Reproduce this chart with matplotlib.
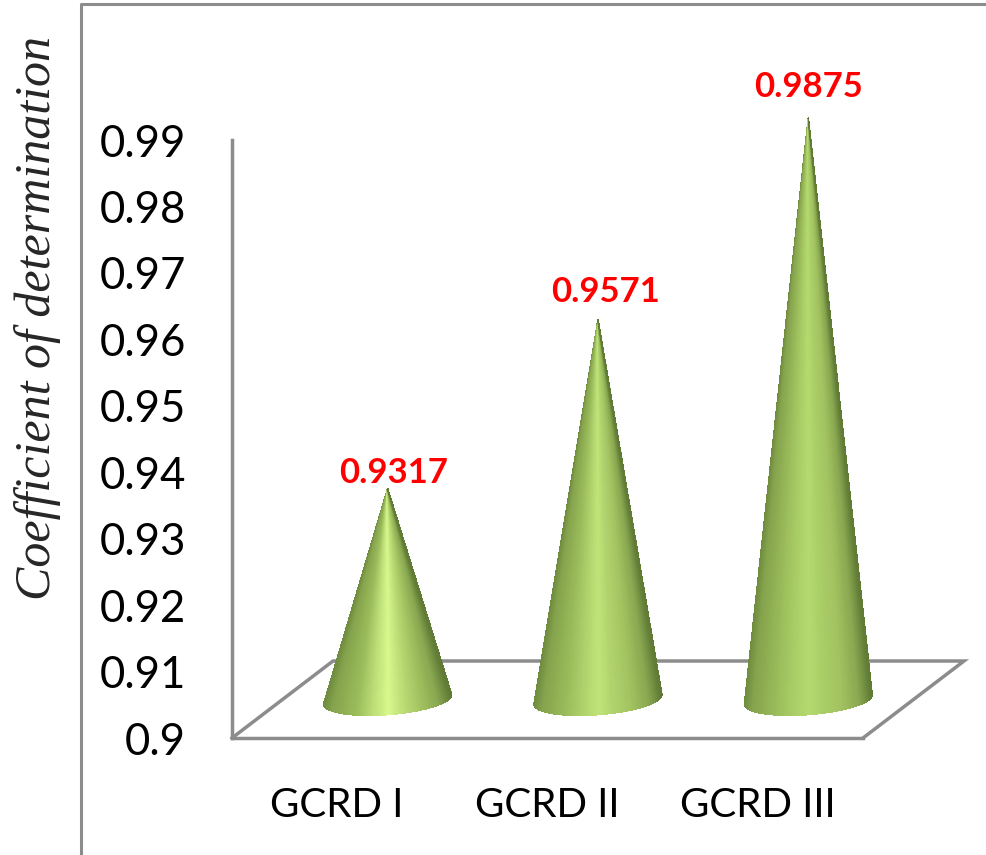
import numpy as np
import matplotlib
matplotlib.use("Agg")
from matplotlib import pyplot as plt
from matplotlib.collections import PolyCollection
from matplotlib.colors import LinearSegmentedColormap
from matplotlib.lines import Line2D

categories = ["GCRD I", "GCRD II", "GCRD III"]
values = [0.9317, 0.9571, 0.9875]
yticks = [0.9, 0.91, 0.92, 0.93, 0.94, 0.95, 0.96, 0.97, 0.98, 0.99]
ytick_labels = ["0.9", "0.91", "0.92", "0.93", "0.94", "0.95", "0.96", "0.97", "0.98", "0.99"]

W, H = 987, 855
GREY = "#8c8c8c"

fig = plt.figure(figsize=(W / 100, H / 100), dpi=100)
fig.patch.set_facecolor("white")

# plot box in pixels: left wall x=232, front floor edge y=738
ax = fig.add_axes([232 / W, (H - 738) / H, 631 / W, 598 / H])
ax.set_xlim(-0.5, 2.5)
ax.set_ylim(0.9, 0.99)
ax.patch.set_alpha(0)

px_x = 3 / 631          # data units per pixel
px_y = 0.09 / 598

# oblique depth of the floor, in pixels
depth_x, depth_y = 101, 77

for s in ["top", "right"]:
    ax.spines[s].set_visible(False)
for s in ["left", "bottom"]:
    ax.spines[s].set_color(GREY)
    ax.spines[s].set_linewidth(2.5)

# floor
x0, x1 = -0.5, 2.5
bx = depth_x * px_x
by = depth_y * px_y
ax.plot([x0, x0 + bx, x1 + bx, x1], [0.9, 0.9 + by, 0.9 + by, 0.9],
        color=GREY, lw=2.5, clip_on=False, zorder=1, solid_joinstyle="miter")

# cones, brightest colour differs per cone
peak = ["#d8f78c", "#c0e478", "#b4da6e"]
shoulder = ["#c0e07a", "#b2d46e", "#abcf68"]

a, b = 64, 15
tilt = np.radians(4.5)
theta = np.linspace(np.pi - 0.15, 2 * np.pi + 0.15, 200)
ex = a * np.cos(theta) * np.cos(tilt) - b * np.sin(theta) * np.sin(tilt)
ey = a * np.cos(theta) * np.sin(tilt) + b * np.sin(theta) * np.cos(tilt)

for i, v in enumerate(values):
    cmap = LinearSegmentedColormap.from_list("cone", [
        (0.0, "#6f8c3f"), (0.06, "#85a34c"), (0.25, "#9cbd5b"), (0.39, shoulder[i]),
        (0.5, peak[i]), (0.6, shoulder[i]), (0.76, "#a2c260"), (0.9, "#88a750"), (1.0, "#5f7a35")])
    cx = i + depth_x / 2 * px_x
    base = 0.9 + depth_y / 2 * px_y
    apex = (cx, v + depth_y / 2 * px_y)
    polys = []
    cols = []
    for k in range(len(theta) - 1):
        polys.append([apex,
                      (cx + ex[k] * px_x, base + ey[k] * px_y),
                      (cx + ex[k + 1] * px_x, base + ey[k + 1] * px_y)])
        u = np.clip((np.cos(theta[k]) + 1) / 2, 0, 1)
        cols.append(cmap(u))
    pc = PolyCollection(polys, facecolors=cols, edgecolors=cols, linewidths=0.5,
                        antialiaseds=False, zorder=3)
    pc.set_clip_on(False)
    ax.add_collection(pc)

# value labels
label_offset = [(6, 16), (7, 28), (0, 31)]
for i, v in enumerate(values):
    ax.annotate(str(v), (i + depth_x / 2 * px_x, v + depth_y / 2 * px_y),
                xytext=(label_offset[i][0] * 0.72, label_offset[i][1] * 0.72),
                textcoords="offset points", ha="center", va="center",
                color="#ff0000", fontsize=25, fontweight="bold", family="Lato",
                annotation_clip=False, zorder=5)

ax.set_yticks(yticks)
ax.set_yticklabels(ytick_labels, family="Lato", fontsize=31.5, color="black")
ax.set_xticks(range(3))
ax.set_xticklabels(categories, family="Lato", fontsize=29, color="black")
ax.tick_params(axis="y", length=0, pad=33)
ax.tick_params(axis="x", length=0, pad=35)

fig.text(38 / W, 1 - 318 / H, "Coefficient of determination", rotation=90,
         ha="center", va="center", family="Liberation Serif", style="italic",
         fontsize=36, color="#262626")

# outer frame, cut off by the image edge
fig.add_artist(Line2D([81 / W, 81 / W, 1], [0, 1 - 4 / H, 1 - 4 / H], color=GREY, lw=2.2))

fig.savefig("out.png", dpi=100)
